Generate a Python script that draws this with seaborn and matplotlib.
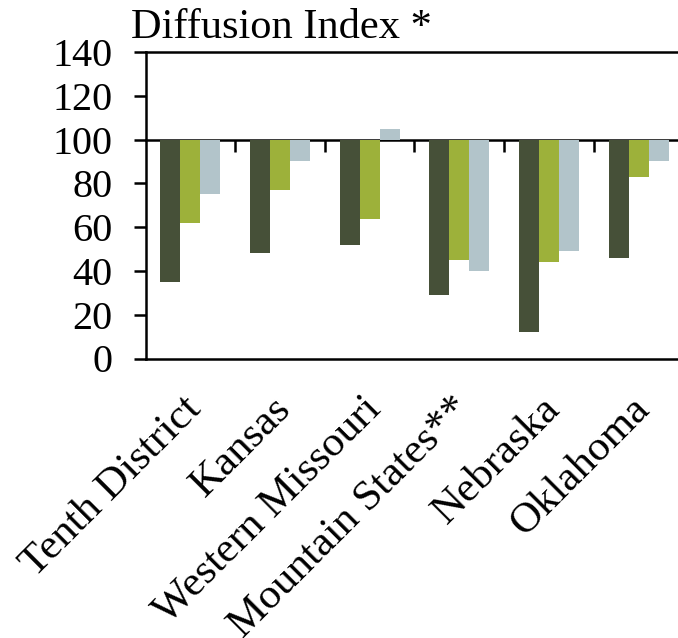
import numpy as np
import pandas as pd
import matplotlib
matplotlib.use("Agg")
import matplotlib.pyplot as plt
import matplotlib.transforms as mtransforms
import seaborn as sns

# Diffusion index by region (100 = no change)
regions = ["Tenth District", "Kansas", "Western Missouri",
           "Mountain States**", "Nebraska", "Oklahoma"]
series_names = ["Series 1", "Series 2", "Series 3"]
series_1 = [35, 48, 52, 29, 12, 46]
series_2 = [62, 77, 63.5, 45, 44, 83]
series_3 = [75, 90, 105, 40, 49, 90]
y_ticks = [0, 20, 40, 60, 80, 100, 120, 140]
baseline = 100
colors = ["#465038", "#9db13a", "#b2c4ca"]

sns.set_theme(style="white")
plt.rcParams["font.family"] = ["Liberation Serif", "DejaVu Serif"]

df = pd.DataFrame({
    "region": regions * 3,
    "series": np.repeat(series_names, len(regions)),
    "value": series_1 + series_2 + series_3,
})
# bars hang from the 100 line
df["height"] = df["value"] - baseline

W, H = 678, 638
fig = plt.figure(figsize=(W / 100, H / 100), dpi=100)
ax = fig.add_axes([145.5 / W, 1 - 358.5 / H, (683.5 - 145.5) / W, (358.5 - 52) / H])

sns.barplot(data=df, x="region", y="height", hue="series",
            order=regions, hue_order=series_names, palette=colors,
            bottom=baseline, width=0.67, linewidth=0, saturation=1,
            errorbar=None, legend=False, ax=ax)

ax.set_ylim(0, 140)
ax.set_xlim(-0.5, len(regions) - 0.5)
ax.set_yticks(y_ticks)
ax.set_xlabel("")
ax.set_ylabel("")

for side in ["left", "top", "bottom"]:
    ax.spines[side].set_visible(True)
    ax.spines[side].set_color("black")
    ax.spines[side].set_linewidth(1.8)
ax.spines["right"].set_visible(False)

ax.tick_params(axis="y", left=True, direction="out", length=8.6, width=1.8,
               pad=15, labelsize=29, colors="black")
ax.tick_params(axis="x", bottom=False, length=0, pad=32, labelsize=31,
               colors="black")

ax.set_xticks(range(len(regions)), labels=regions)
shift = mtransforms.ScaledTranslation(5 / 100, 0, fig.dpi_scale_trans)
for lbl in ax.get_xticklabels():
    lbl.set_rotation(45)
    lbl.set_ha("right")
    lbl.set_va("center")
    lbl.set_rotation_mode("anchor")
    lbl.set_transform(lbl.get_transform() + shift)

# reference line at 100 with category separator ticks
sec = ax.secondary_xaxis(baseline, transform=ax.transData)
sec.set_xticks(np.arange(len(regions) - 1) + 0.5)
sec.tick_params(axis="x", top=True, bottom=False, direction="in",
                length=8.6, width=1.8, labeltop=False, labelbottom=False,
                colors="black")
for s in sec.spines.values():
    s.set_linewidth(1.8)
    s.set_color("black")

fig.text(131 / W, 1 - 38 / H, "Diffusion Index *", fontsize=30.5,
         ha="left", va="baseline", color="black")

fig.savefig("out.png", dpi=100)
